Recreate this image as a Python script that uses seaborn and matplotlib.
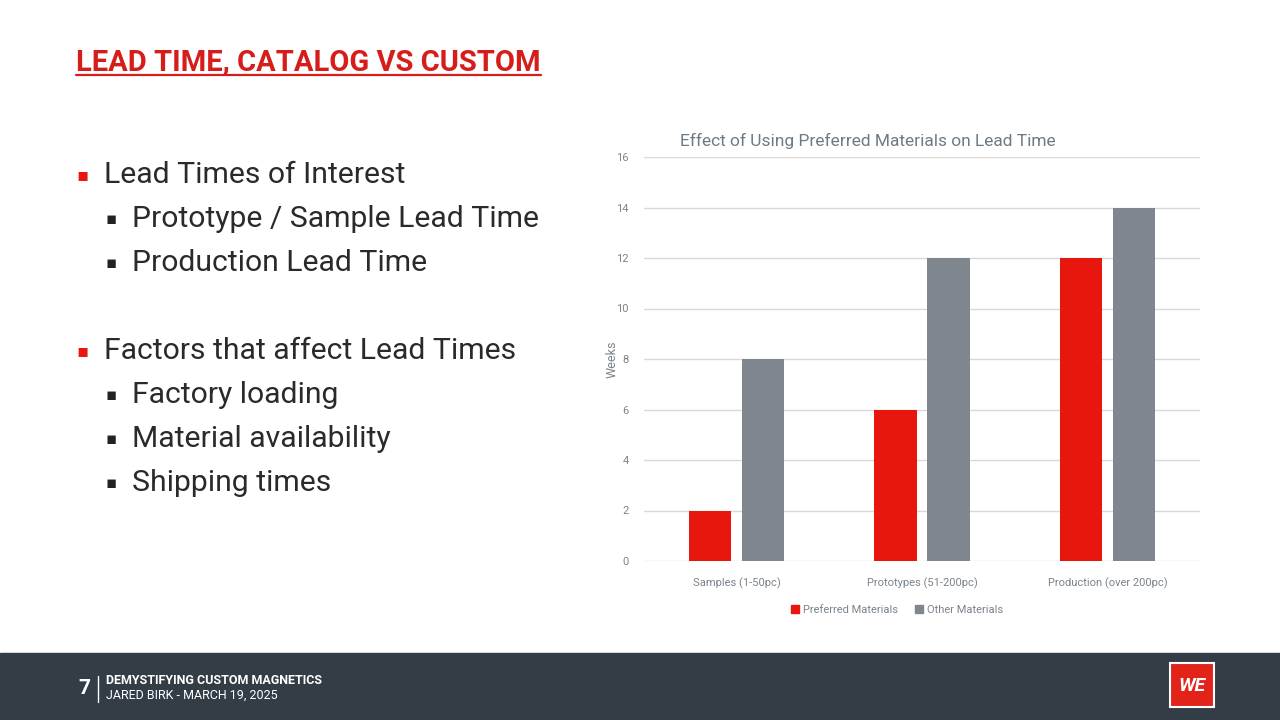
import pandas as pd
import matplotlib.pyplot as plt
import matplotlib.patches as mpatches
from matplotlib.lines import Line2D
import seaborn as sns

# chart data
categories = ["Samples (1-50pc)", "Prototypes (51-200pc)", "Production (over 200pc)"]
preferred = [2, 6, 12]
other = [8, 12, 14]
series_names = ["Preferred Materials", "Other Materials"]
y_ticks = [0, 2, 4, 6, 8, 10, 12, 14, 16]

bullets = [
    (0, "Lead Times of Interest"),
    (1, "Prototype / Sample Lead Time"),
    (1, "Production Lead Time"),
    (None, ""),
    (0, "Factors that affect Lead Times"),
    (1, "Factory loading"),
    (1, "Material availability"),
    (1, "Shipping times"),
]

RED = "#E8170E"
GREY = "#7F868E"
TXT = "#7A838C"

sns.set_theme(style="white")
plt.rcParams["font.family"] = ["Roboto", "DejaVu Sans"]

df = pd.DataFrame({
    "Category": categories * 2,
    "Material": [series_names[0]] * 3 + [series_names[1]] * 3,
    "Weeks": preferred + other,
})

fig = plt.figure(figsize=(12.8, 7.2), dpi=100)
fig.patch.set_facecolor("white")

# heading with underline
head = fig.text(76 / 1280, 1 - 62 / 720, "LEAD TIME, CATALOG VS CUSTOM", color="#D71D1A",
                fontsize=21, fontweight="bold", va="center", ha="left")
fig.canvas.draw()
bb = head.get_window_extent().transformed(fig.transFigure.inverted())
fig.add_artist(Line2D([bb.x0, bb.x1], [bb.y0 + 0.001, bb.y0 + 0.001], color="#D71D1A",
                      lw=1.6, transform=fig.transFigure))

# bullet list
y = 1 - 175 / 720
for level, txt in bullets:
    if level is not None:
        bx = 83 / 1280 if level == 0 else 111 / 1280
        tx = 104 / 1280 if level == 0 else 132 / 1280
        fig.text(bx, y, "\u25aa", color=RED if level == 0 else "#222222",
                 fontsize=13 if level == 0 else 12,
                 va="center", ha="center", family="DejaVu Sans")
        fig.text(tx, y, txt, color="#2A2A2A", fontsize=21.7, va="center", ha="left")
    y -= 44 / 720

# chart
ax = fig.add_axes([644 / 1280, 1 - 561 / 720, 556 / 1280, 404 / 720])
sns.barplot(data=df, x="Category", y="Weeks", hue="Material", ax=ax,
            palette={series_names[0]: RED, series_names[1]: GREY},
            width=0.57, gap=0.2, saturation=1, linewidth=0)
ax.set_ylim(0, 16)
ax.set_yticks(y_ticks)
ax.yaxis.grid(True, color="#D9D9D9", lw=1)
ax.set_axisbelow(True)
sns.despine(ax=ax, left=True, bottom=True)
ax.tick_params(axis="both", length=0, labelsize=8, labelcolor=TXT)
ax.tick_params(axis="y", pad=11)
ax.tick_params(axis="x", pad=12)
ax.set_xlabel("")
ax.set_ylabel("Weeks", fontsize=9, color=TXT, labelpad=-2)
ax.set_title("Effect of Using Preferred Materials on Lead Time", fontsize=12.5,
             color="#6E7B86", loc="left", x=0.064, pad=8)
ax.legend_.remove()
handles = [mpatches.Patch(color=RED, label=series_names[0]),
           mpatches.Patch(color=GREY, label=series_names[1])]
fig.legend(handles=handles, loc="center", bbox_to_anchor=(897 / 1280, 1 - 610 / 720),
           ncol=2, frameon=False, fontsize=8, labelcolor=TXT, handlelength=0.7,
           handleheight=0.7, handletextpad=0.4, columnspacing=1.5)

# footer band
fig.add_artist(mpatches.Rectangle((0, 0), 1, 67 / 720, transform=fig.transFigure,
                                  color="#333D45", zorder=0))
fig.text(84 / 1280, 1 - 688 / 720, "7", color="white", fontsize=15, fontweight="bold",
         va="center", ha="center")
fig.add_artist(Line2D([98 / 1280, 98 / 1280], [1 - 676 / 720, 1 - 702 / 720],
                      color="white", lw=1, transform=fig.transFigure))
fig.text(106 / 1280, 1 - 680 / 720, "DEMYSTIFYING CUSTOM MAGNETICS", color="white",
         fontsize=9, fontweight="bold", va="center", ha="left")
fig.text(106 / 1280, 1 - 695 / 720, "JARED BIRK - MARCH 19, 2025", color="white",
         fontsize=9, va="center", ha="left")

# logo
fig.add_artist(mpatches.Rectangle((1170 / 1280, 1 - 707 / 720), 44 / 1280, 44 / 720,
                                  transform=fig.transFigure, facecolor="#E2231A",
                                  edgecolor="white", lw=1.5))
fig.text(1192 / 1280, 1 - 686 / 720, "WE", color="white", fontsize=14, fontweight="bold",
         style="italic", va="center", ha="center")

fig.savefig("out.png", dpi=100)
